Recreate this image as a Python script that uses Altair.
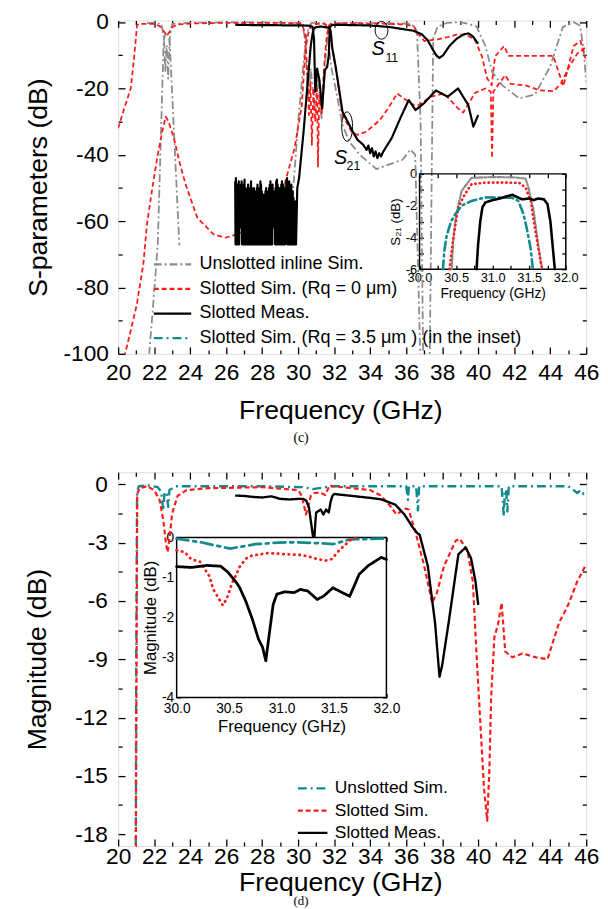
import altair as alt
import numpy as np
import pandas as pd

FONT = "Liberation Sans"
GRAY, RED, BLACK, TEAL = "#8c8c8c", "#ff1a1a", "#000000", "#12898a"

# plot sizes (px) and inset boxes (x0, x1, y_top, y_bottom) relative to plot area
W1, H1 = 476, 339
W2, H2 = 476, 380
TI = (306.5, 455.2, 156, 253)
BI = (59.5, 272.8, 66.3, 229)

# ------------------------------------------------------------------ (c) data
S_UNS = "Unslotted inline Sim."
S_SL0 = "Slotted Sim. (Rq = 0 μm)"
S_MEAS = "Slotted Meas."
S_SL35 = "Slotted Sim. (Rq = 3.5 μm ) (in the inset)"

gray_s11_f = [21.6, 22.0, 22.4, 22.55, 22.62, 22.7, 22.78, 22.86, 23.0, 24, 26, 28, 30.2, 30.35, 30.55,
              30.7, 30.9, 31.1, 31.3, 31.5, 31.65, 31.8, 33, 35, 36.3, 36.6, 36.8, 36.95]
gray_s11_db = [-0.3, -0.2, -0.5, -5, -15, -7, -17, -5, -0.5, -0.2, -0.1, -0.1, -0.3, -4, -22,
               -14, -25, -17, -29, -12, -3, -0.4, -0.2, -0.3, -0.5, -3, -30, -105]
gray_s21a_f = [21.65, 21.95, 22.2, 22.53, 22.65, 22.75, 22.86, 23.4]
gray_s21a_db = [-105, -85, -67, -5.4, -3, -4, -5.4, -67.3]
gray_s21b_f = [29.6, 29.8, 30.0, 30.25, 30.45, 30.6, 30.75, 31.0, 31.3, 31.5, 31.6, 31.68, 31.85, 32.08,
               32.46, 32.84, 33.4, 34.35, 35.1, 35.8, 36.24, 36.5, 36.8, 37.3, 37.5, 37.75, 38.3, 38.95,
               39.45, 39.9, 40.4, 40.77, 41.33, 42.28, 43.15, 44.0, 44.7, 45.3, 45.65, 45.85, 46.0]
gray_s21b_db = [-58, -45, -30, -15, -4.5, -1.2, -0.25, -0.2, -0.22, -0.4, -2.5, -6, -14, -20,
                -31, -36, -39.9, -44.3, -42.8, -41.5, -38.4, -40, -105, -105, -5, -1.3, -0.2, 0,
                -0.5, -1.3, -7.2, -15, -19, -23, -21.8, -13.4, -1.5, 0, -1, -8, -18]

red_s11_f = [20.0, 20.4, 20.7, 20.9, 21.05, 21.15, 22.0, 22.3, 22.5, 22.7, 22.85, 23.0, 23.3, 24.2, 26,
             28, 30.1, 30.25, 30.4, 30.5, 30.6, 30.68, 30.76, 30.85, 30.95, 31.05, 31.1, 31.17, 31.3,
             31.42, 31.55, 31.7, 31.9, 33, 35, 36.0, 36.43, 36.7, 37.0, 37.4, 37.75, 38.3, 38.8, 39.26,
             39.8, 40.2, 40.5, 40.75, 40.9, 40.96, 41.43, 41.7, 44.17, 44.73, 45.3, 45.68, 45.96]
red_s11_db = [-32, -25, -20, -10, -1, -0.5, -0.5, -1.2, -2.5, -4, -3, -1.5, -0.7, -0.4, -0.2,
              -0.2, -0.3, -1, -4, -15, -28, -18, -37, -20, -30, -20, -43.5, -22, -28,
              -15, -6, -1, -0.4, -0.4, -0.5, -0.7, -1.3, -3.7, -5.7, -5.4, -5.2, -4.5, -3.8, -3.7,
              -5.2, -10.2, -17, -19, -12, -10.2, -7.2, -10.2, -10.2, -19.3, -7.2, -5.7, -11]
red_s21_f = [20.34, 20.7, 21.04, 21.4, 21.6, 21.9, 22.2, 22.45, 22.64, 22.8, 23.1, 23.4, 23.75, 24.4,
             25.3, 25.95, 26.6, 27.5, 28.5, 29.0, 29.44, 29.8, 30.2, 30.38, 30.5, 30.6, 30.7, 30.8,
             31.0, 31.4, 31.55, 31.65, 31.75, 31.9, 32.2, 32.46, 33.0, 33.3, 33.8, 34.54, 35.0, 35.5,
             35.86, 36.43, 36.7, 37.37, 38.1, 38.88, 39.16, 39.83, 40.4, 40.7, 40.77, 40.84, 41.15,
             41.5, 41.8, 42.66, 43.4, 44.2, 44.6, 45.0, 45.5, 46.0]
red_s21_db = [-101, -93, -85, -73, -61, -50, -40, -33, -28.5, -30, -35, -42, -49, -59,
              -64, -65, -64, -62, -58, -54, -45, -38, -25, -10, -5, -2.5, -1.2, -0.6,
              -0.5, -0.5, -0.8, -2, -4, -8, -18, -28, -33.3, -34, -33, -29.5, -26, -21.5,
              -23, -25, -25, -22.5, -21.5, -26, -27.3, -21.3, -20, -21, -41, -21, -18.6,
              -16, -18.6, -19.1, -20.6, -20.8, -18.5, -14, -9.5, -7.5]

black_s11_f = [26.5, 27.5, 28.5, 29.5, 30.3, 30.6, 30.8, 30.88, 30.95, 31.05, 31.18, 31.33, 31.48,
               31.61, 31.7, 31.76, 31.9, 33.97, 35.1, 36.4, 36.85, 37.2, 37.5, 37.7, 37.85, 38.05,
               38.4, 38.8, 39.2, 39.45, 39.7, 40.0]
black_s11_db = [-0.8, -0.9, -0.9, -1.0, -1.0, -1.1, -1.5, -5, -21, -14, -17.5, -26, -14.5,
                -13.5, -10, -1.5, -0.8, -1.0, -1.5, -2.6, -3.6, -5.5, -8.5, -10.2, -10.8, -10,
                -7.2, -5, -3.7, -3.4, -4.3, -6.5]
# measured S21 below the passband: noisy band (upper peaks, floor -67 dB)
noise_hi = [-48, -47, -50, -49, -51, -48, -50, -52, -49, -48, -50, -51, -49, -47.5, -50, -52, -51,
            -50, -49, -51, -53, -50, -48, -50, -52, -51, -50, -53, -54, -51, -50, -49, -51, -52,
            -50, -48, -49, -51, -53, -52, -55, -53, -51, -50, -52, -54, -51, -50, -49, -48, -50,
            -51, -49, -52, -53, -51, -50, -48, -47.5, -49, -51, -50, -52, -51, -49, -48, -50, -49,
            -51, -53, -50, -48, -47, -49, -50, -48, -51, -50, -49, -52, -51, -53, -56, -58, -54]
noise_floor = -67
noise_gaps = {6: -61, 7: -60, 8: -62, 52: -62, 53: -60, 54: -61, 70: -61, 71: -62}
black_s21_f = [29.95, 30.05, 30.3, 30.5, 30.7, 30.8, 30.87, 30.95, 31.25, 31.5, 31.7, 31.8, 31.9, 32.1,
               32.46, 33.03, 33.3, 33.6, 33.8, 33.9, 34.0, 34.1, 34.2, 34.3, 34.4, 34.5, 34.6, 34.73,
               35.2, 35.67, 36.14, 36.52, 37.0, 37.65, 38.3, 38.88, 39.45, 39.73, 40.0]
black_s21_db = [-50, -47, -33, -20, -7, -3.5, -2, -1.6, -1.3, -1.55, -1.6, -2.5, -8, -14,
                -27, -33, -35.5, -36.9, -38.5, -37.2, -39.5, -38, -40.5, -39, -41, -39.5, -40.5, -39,
                -34.9, -29, -23.5, -26.5, -24.4, -20.6, -22.5, -20, -25, -31.5, -28]

# inset (c): S21 passband detail
ci_gray_f = [30.44, 30.46, 30.5, 30.575, 30.71, 31.0, 31.3, 31.45, 31.49, 31.56, 31.61, 31.66, 31.68]
ci_gray_db = [-6, -4.2, -2.6, -1.07, -0.25, -0.2, -0.22, -0.3, -0.86, -2.3, -4, -5.6, -6]
ci_red_f = [30.41, 30.44, 30.48, 30.53, 30.62, 30.71, 30.9, 31.2, 31.36, 31.45, 31.52, 31.56, 31.61, 31.66, 31.68]
ci_red_db = [-6, -4.8, -3.5, -2.1, -1.28, -0.66, -0.55, -0.55, -0.56, -0.86, -1.7, -2.9, -4.3, -5.6, -6]
ci_black_f = [30.78, 30.8, 30.83, 30.86, 30.9, 31.0, 31.1, 31.2, 31.27, 31.33, 31.4, 31.5, 31.56,
              31.62, 31.7, 31.75, 31.79, 31.82, 31.85]
ci_black_db = [-6, -4.5, -3, -2.1, -1.8, -1.65, -1.55, -1.4, -1.32, -1.45, -1.6, -1.55, -1.65,
               -1.55, -1.6, -1.9, -3, -4.5, -6]
ci_teal_f = [30.32, 30.34, 30.37, 30.43, 30.48, 30.575, 30.71, 30.9, 31.26, 31.35, 31.42, 31.47, 31.52, 31.55]
ci_teal_db = [-6, -4.8, -3.9, -3.0, -2.6, -2.0, -1.7, -1.48, -1.5, -1.7, -2.5, -3.5, -4.7, -6]

# annotations (c)
ann_s_f, ann_s_db, ann_s_sub = [34.44, 32.35], [-8.25, -41.0], ["11", "21"]
ann_sub_f, ann_sub_db = [35.2, 33.07], [-10.8, -43.4]
ell_f, ell_db = [34.63, 32.72], [-2.46, -31.5]

# ------------------------------------------------------------------ (d) data
D_UNS, D_SL, D_MEAS = "Unslotted Sim.", "Slotted Sim.", "Slotted Meas."
teal_d_f = [20.98, 21.0, 21.05, 21.15, 21.6, 22.2, 22.4, 22.5, 22.58, 22.7, 22.78, 22.85, 23.2, 25, 28,
            30.3, 30.8, 31.5, 32, 34, 36.0, 36.1, 36.15, 36.55, 36.65, 36.72, 38, 40, 41.3, 41.42,
            41.48, 41.55, 41.62, 41.7, 43, 45.0, 45.3, 45.5, 45.7, 45.85, 46.0]
teal_d_db = [-19.5, -10, -0.4, -0.1, -0.05, -0.15, -0.4, -1.35, -0.4, -0.5, -1.16, -0.3, -0.1, -0.1, -0.1,
             -0.15, -0.25, -0.15, -0.1, -0.1, -0.1, -0.8, -0.1, -0.1, -1.35, -0.1, -0.1, -0.1, -0.1, -1.65,
             -0.3, -0.3, -1.4, -0.1, -0.1, -0.1, -0.3, -0.45, -0.3, -0.5, -0.35]
red_d_f = [20.98, 21.02, 21.06, 21.2, 21.6, 22.0, 22.3, 22.5, 22.65, 22.75, 22.85, 23.0, 23.3, 23.8, 25,
           28, 30.0, 30.2, 30.35, 30.43, 30.55, 30.7, 30.9, 31.2, 31.5, 31.75, 31.9, 33, 34.0, 34.6,
           35.15, 35.45, 35.7, 35.95, 36.13, 36.5, 37.0, 37.44, 37.7, 38.1, 38.75, 38.97, 39.4, 39.7,
           39.95, 40.15, 40.32, 40.5, 40.62, 40.72, 40.9, 41.1, 41.3, 41.5, 41.9, 42.45, 43.2, 43.85,
           44.12, 44.5, 45.0, 45.5, 46.0]
red_d_db = [-19.5, -10, -0.5, -0.2, -0.1, -0.3, -0.8, -1.8, -3.0, -3.5, -2.8, -1.5, -0.6, -0.3, -0.2,
            -0.15, -0.3, -0.6, -1.2, -1.55, -1.2, -0.6, -0.45, -0.42, -0.55, -0.05, -0.1, -0.2, -0.3, -0.58,
            -1.16, -1.55, -1.4, -1.25, -1.3, -2.4, -4.2, -6.1, -5.6, -4.2, -2.9, -2.8, -3.4, -5.0,
            -9.5, -12.8, -15.6, -17.3, -14.7, -10.9, -7.85, -7.2, -6.1, -8.6, -8.9, -8.7, -8.9, -9.0,
            -8.2, -7.1, -6.2, -5.0, -4.1]
black_d_f = [26.5, 27, 27.5, 28, 28.5, 29, 29.5, 30.0, 30.3, 30.45, 30.6, 30.75, 30.88, 30.95, 31.0, 31.25,
             31.4, 31.55, 31.7, 31.8, 31.9, 32.0, 33, 34, 34.6, 35.4, 35.9, 36.35, 36.6, 36.75, 37.2,
             37.6, 37.85, 38.0, 38.36, 38.9, 39.3, 39.6, 39.85, 40.0]
black_d_db = [-0.58, -0.6, -0.65, -0.68, -0.62, -0.75, -0.78, -0.75, -0.75, -0.85, -1.2, -2.2, -3.05, -2,
              -1.45, -1.3, -1.55, -1.3, -1.45, -0.9, -0.6, -0.5, -0.6, -0.7, -0.77, -1.05, -1.55, -2.2,
              -2.5, -2.6, -4.2, -7.1, -9.9, -9.3, -7.1, -3.6, -3.25, -3.8, -5.0, -6.2]

# inset (d)
di_teal_f = [30.0, 30.23, 30.51, 30.75, 30.97, 31.15, 31.4, 31.49, 31.65, 32.0]
di_teal_db = [-0.03, -0.12, -0.28, -0.17, -0.13, -0.12, -0.15, -0.17, -0.05, -0.03]
di_red_f = [30.0, 30.08, 30.14, 30.22, 30.31, 30.35, 30.4, 30.44, 30.48, 30.53, 30.57, 30.6, 30.66, 30.72,
            30.88, 31.03, 31.18, 31.25, 31.34, 31.42, 31.48, 31.54, 31.6, 31.66, 31.72]
di_red_db = [-0.32, -0.37, -0.55, -0.6, -0.96, -1.3, -1.52, -1.7, -1.52, -1.13, -0.92, -0.74, -0.53, -0.45,
             -0.39, -0.42, -0.44, -0.47, -0.54, -0.58, -0.54, -0.35, -0.2, -0.06, 0]
di_black_f = [30.0, 30.14, 30.29, 30.42, 30.49, 30.57, 30.6, 30.66, 30.72, 30.78, 30.82, 30.85, 30.86, 30.89,
              30.92, 30.955, 31.03, 31.12, 31.18, 31.25, 31.34, 31.4, 31.49, 31.58, 31.65, 31.7, 31.74,
              31.83, 31.95, 32.0]
di_black_db = [-0.73, -0.75, -0.7, -0.72, -0.87, -1.13, -1.25, -1.6, -2.03, -2.54, -2.75, -3.09, -2.88, -2.28,
               -1.68, -1.42, -1.36, -1.38, -1.3, -1.34, -1.55, -1.47, -1.26, -1.38, -1.47, -1.17, -0.92,
               -0.7, -0.5, -0.55]

# ------------------------------------------------------------------ helpers
def frame(segments, series):
    rows = []
    for s, (fs, ds) in enumerate(segments):
        for i, (f, d) in enumerate(zip(fs, ds)):
            rows.append({"f": f, "db": d, "series": series, "seg": s, "i": i})
    return pd.DataFrame(rows)


def sc(domain, rng=None):
    if rng is None:
        return alt.Scale(domain=domain, nice=False, zero=False)
    return alt.Scale(domain=domain, range=rng, nice=False, zero=False)


def ax_labels(orient, values, title, lfs, tfs, lpad, tpad, offset=0, expr="'' + datum.value", title_x=None):
    kw = dict(orient=orient, values=values, labelFont=FONT, labelFontSize=lfs, labelPadding=lpad,
              ticks=False, domain=False, grid=False, labelFlush=False, labelOverlap=False,
              labelExpr=expr, labelColor="black", offset=offset, title=title,
              titleFont=FONT, titleFontSize=tfs, titlePadding=tpad, titleFontWeight="normal",
              titleColor="black")
    if title_x is not None:
        kw["titleX"] = title_x
    return alt.Axis(**kw)


def ax_ticks(orient, values, offset, major, minor=None, test=None):
    size = {"condition": {"test": test, "value": major}, "value": minor} if test else major
    return alt.Axis(orient=orient, values=values, offset=offset, labels=False, title=None,
                    domain=False, grid=False, tickSize=size, tickWidth=1.3, tickColor="black")


def tick_layer(xs, ys, xv, yv, xo, xoff, yo, yoff, maj, mnr=None, xt=None, yt=None):
    d = pd.DataFrame({"hx": [xv[0]], "hy": [yv[0]]})
    return alt.Chart(d).mark_point(opacity=0).encode(
        x=alt.X("hx:Q", scale=xs, axis=ax_ticks(xo, xv, xoff, maj, mnr, xt)),
        y=alt.Y("hy:Q", scale=ys, axis=ax_ticks(yo, yv, yoff, maj, mnr, yt)),
    )


def inset_line(fs, ds, xs, ys, color, dash, width):
    d = pd.DataFrame({"f": fs, "db": ds, "i": range(len(fs))})
    return alt.Chart(d).mark_line(color=color, strokeDash=dash, strokeWidth=width, strokeCap="round").encode(
        x=alt.X("f:Q", scale=xs, axis=None), y=alt.Y("db:Q", scale=ys, axis=None), order="i:Q")


def inset_box(xs, ys, xd, yd, fill_white):
    d = pd.DataFrame({"a": [xd[0]], "b": [xd[1]], "c": [yd[0]], "e": [yd[1]]})
    mk = dict(stroke="black", strokeWidth=1.5)
    if fill_white:
        mk["fill"] = "white"
    else:
        mk["fillOpacity"] = 0
    return alt.Chart(d).mark_rect(**mk).encode(
        x=alt.X("a:Q", scale=xs, axis=None), x2="b:Q",
        y=alt.Y("c:Q", scale=ys, axis=None), y2="e:Q")


# ------------------------------------------------------------------ panel (c)
xm1, ym1 = sc([20, 46]), sc([-100, 0.5])
xi1, yi1 = sc([30, 32], [TI[0], TI[1]]), sc([-6, 0], [TI[3], TI[2]])

ser_top = [S_UNS, S_SL0, S_MEAS, S_SL35]
col_top = alt.Scale(domain=ser_top, range=[GRAY, RED, BLACK, TEAL])
dash_top = alt.Scale(domain=ser_top, range=[[8, 3, 2, 3], [5, 3], [1, 0], [9, 4, 2, 4]])
leg_top = alt.Legend(orient="none", legendX=34.8, legendY=238, title=None, labelFont=FONT,
                     labelFontSize=18.3, labelColor="black", symbolType="stroke", symbolSize=1444,
                     symbolStrokeWidth=2.3, clipHeight=20, rowPadding=5, labelOffset=7, padding=0,
                     labelLimit=600)

noise_db = []
for k, h in enumerate(noise_hi):
    noise_db += [h, noise_gaps.get(k, noise_floor)]
noise_f = list(np.linspace(26.5, 29.88, len(noise_db)))

top_series = [
    (S_UNS, [(gray_s11_f, gray_s11_db), (gray_s21a_f, gray_s21a_db), (gray_s21b_f, gray_s21b_db)], 1.8),
    (S_SL0, [(red_s11_f, red_s11_db), (red_s21_f, red_s21_db)], 1.8),
    (S_MEAS, [(black_s11_f, black_s11_db), (noise_f + black_s21_f, noise_db + black_s21_db)], 2.2),
]

top_layers = []
for n, (name, segs, w) in enumerate(top_series):
    xa = ax_labels("bottom", list(range(20, 47, 2)), "Frequency (GHz)", 23, 27, 8, 14, title_x=226) if n == 0 else None
    ya = ax_labels("left", list(range(0, -101, -20)), "S-parameters (dB)", 23, 27, 10, 11) if n == 0 else None
    top_layers.append(
        alt.Chart(frame(segs, name)).mark_line(clip=True, strokeWidth=w, strokeCap="butt", strokeJoin="round").encode(
            x=alt.X("f:Q", scale=xm1, axis=xa),
            y=alt.Y("db:Q", scale=ym1, axis=ya),
            color=alt.Color("series:N", scale=col_top, legend=leg_top),
            strokeDash=alt.StrokeDash("series:N", scale=dash_top, legend=leg_top),
            detail="seg:N",
            order="i:Q",
        )
    )

ann_s = pd.DataFrame({"f": ann_s_f, "db": ann_s_db, "t": ["S", "S"]})
ann_sub = pd.DataFrame({"f": ann_sub_f, "db": ann_sub_db, "t": ann_s_sub})
top_layers.append(alt.Chart(ann_s).mark_text(font=FONT, fontSize=20, fontStyle="italic", color="black").encode(
    x=alt.X("f:Q", scale=xm1, axis=None), y=alt.Y("db:Q", scale=ym1, axis=None), text="t:N"))
top_layers.append(alt.Chart(ann_sub).mark_text(font=FONT, fontSize=12.5, color="black").encode(
    x=alt.X("f:Q", scale=xm1, axis=None), y=alt.Y("db:Q", scale=ym1, axis=None), text="t:N"))
ell_shapes = ["M -0.72 0 A 0.72 1 0 1 0 0.72 0 A 0.72 1 0 1 0 -0.72 0",
              "M -0.37 0 A 0.37 1 0 1 0 0.37 0 A 0.37 1 0 1 0 -0.37 0"]
ell_sizes = [324, 900]
for k in range(2):
    d = pd.DataFrame({"f": [ell_f[k]], "db": [ell_db[k]]})
    top_layers.append(alt.Chart(d).mark_point(shape=ell_shapes[k], size=ell_sizes[k], filled=False,
                                              stroke="black", strokeWidth=1, opacity=1).encode(
        x=alt.X("f:Q", scale=xm1, axis=None), y=alt.Y("db:Q", scale=ym1, axis=None)))

# inset (c)
top_layers.append(inset_box(xi1, yi1, [30, 32], [-6, 0], False))
top_layers.append(inset_line(ci_gray_f, ci_gray_db, xi1, yi1, GRAY, [4, 2, 1.5, 2], 2.2))
top_layers.append(inset_line(ci_red_f, ci_red_db, xi1, yi1, RED, [0.5, 4], 2.6))
top_layers.append(inset_line(ci_teal_f, ci_teal_db, xi1, yi1, TEAL, [9, 4, 2, 4], 2.6))
top_layers.append(inset_line(ci_black_f, ci_black_db, xi1, yi1, BLACK, [1, 0], 2.6))
ins_lab1 = pd.DataFrame({"hx": [30.0], "hy": [-6.0]})
top_layers.append(alt.Chart(ins_lab1).mark_point(opacity=0).encode(
    x=alt.X("hx:Q", scale=xi1, axis=ax_labels("bottom", [30.0, 30.5, 31.0, 31.5, 32.0], "Frequency (GHz)",
                                              13, 14, 2, 3, offset=TI[3] - H1, expr="format(datum.value, '.1f')")),
    y=alt.Y("hy:Q", scale=yi1, axis=ax_labels("left", [0, -2, -4, -6], "S₂₁ (dB)", 13, 13.5, 3, 3, offset=-TI[0]))))
xv_i = [30 + 0.25 * k for k in range(9)]
yv_i1 = [0, -1, -2, -3, -4, -5, -6]
top_layers.append(tick_layer(xi1, yi1, xv_i, yv_i1, "top", -TI[3], "right", TI[0] - W1, 4))
top_layers.append(tick_layer(xi1, yi1, xv_i, yv_i1, "bottom", TI[2] - H1, "left", -TI[1], 4))

# main ticks (c)
xv_m = list(range(20, 47))
yv_m1 = list(range(0, -101, -10))
top_layers.append(tick_layer(xm1, ym1, xv_m, yv_m1, "top", -H1, "right", -W1, 7, 4,
                             "datum.value % 2 === 0", "datum.value % 20 === 0"))
top_layers.append(tick_layer(xm1, ym1, xv_m, yv_m1, "bottom", -H1, "left", -W1, 7, 4,
                             "datum.value % 2 === 0", "datum.value % 20 === 0"))

top = alt.layer(*top_layers).resolve_scale(x="independent", y="independent").properties(
    width=W1, height=H1,
    title=alt.TitleParams("(c)", orient="bottom", font="Liberation Serif", fontSize=14,
                          fontWeight="normal", offset=8, dx=-52, color="black"))

# ------------------------------------------------------------------ panel (d)
xm2, ym2 = sc([20, 46]), sc([-18.6, 0.62])
xi2, yi2 = sc([30, 32], [BI[0], BI[1]]), sc([-4, 0], [BI[3], BI[2]])

ser_bot = [D_UNS, D_SL, D_MEAS]
col_bot = alt.Scale(domain=ser_bot, range=[TEAL, RED, BLACK])
dash_bot = alt.Scale(domain=ser_bot, range=[[9, 4, 2, 4], [5, 3], [1, 0]])
leg_bot = alt.Legend(orient="none", legendX=181.3, legendY=312.4, title=None, labelFont=FONT,
                     labelFontSize=17.7, labelColor="black", symbolType="stroke", symbolSize=900,
                     symbolStrokeWidth=2.3, clipHeight=18, rowPadding=4.7, labelOffset=6, padding=0,
                     labelLimit=600)

bot_series = [
    (D_UNS, [(teal_d_f, teal_d_db)], 2.4),
    (D_SL, [(red_d_f, red_d_db)], 2.2),
    (D_MEAS, [(black_d_f, black_d_db)], 2.4),
]
bot_layers = []
for n, (name, segs, w) in enumerate(bot_series):
    xa = ax_labels("bottom", list(range(20, 47, 2)), "Frequency (GHz)", 23, 27, 0, 1, title_x=226) if n == 0 else None
    ya = ax_labels("left", [0, -3, -6, -9, -12, -15, -18], "Magnitude (dB)", 23, 27, 11, 24) if n == 0 else None
    bot_layers.append(
        alt.Chart(frame(segs, name)).mark_line(clip=True, strokeWidth=w, strokeCap="butt", strokeJoin="round").encode(
            x=alt.X("f:Q", scale=xm2, axis=xa),
            y=alt.Y("db:Q", scale=ym2, axis=ya),
            color=alt.Color("series:N", scale=col_bot, legend=leg_bot),
            strokeDash=alt.StrokeDash("series:N", scale=dash_bot, legend=leg_bot),
            detail="seg:N",
            order="i:Q",
        )
    )

bot_layers.append(inset_box(xi2, yi2, [30, 32], [-4, 0], True))
bot_layers.append(inset_line(di_teal_f, di_teal_db, xi2, yi2, TEAL, [12, 5, 3, 5], 2.8))
bot_layers.append(inset_line(di_red_f, di_red_db, xi2, yi2, RED, [0.5, 5], 2.8))
bot_layers.append(inset_line(di_black_f, di_black_db, xi2, yi2, BLACK, [1, 0], 2.8))
ins_lab2 = pd.DataFrame({"hx": [30.0], "hy": [-4.0]})
bot_layers.append(alt.Chart(ins_lab2).mark_point(opacity=0).encode(
    x=alt.X("hx:Q", scale=xi2, axis=ax_labels("bottom", [30.0, 30.5, 31.0, 31.5, 32.0], "Frequency (GHz)",
                                              14, 17, 4, 4, offset=BI[3] - H2, expr="format(datum.value, '.1f')")),
    y=alt.Y("hy:Q", scale=yi2, axis=ax_labels("left", [0, -1, -2, -3, -4], "Magnitude (dB)", 14, 17, 3, 2,
                                              offset=-BI[0]))))
yv_i2 = [-0.5 * k for k in range(9)]
bot_layers.append(tick_layer(xi2, yi2, xv_i, yv_i2, "top", -BI[3], "right", BI[0] - W2, 4))
bot_layers.append(tick_layer(xi2, yi2, xv_i, yv_i2, "bottom", BI[2] - H2, "left", -BI[1], 4))

yv_m2 = [-1.5 * k for k in range(13)]
bot_layers.append(tick_layer(xm2, ym2, xv_m, yv_m2, "top", -H2, "right", -W2, 7, 4,
                             "datum.value % 2 === 0", "datum.value % 3 === 0"))
bot_layers.append(tick_layer(xm2, ym2, xv_m, yv_m2, "bottom", -H2, "left", -W2, 7, 4,
                             "datum.value % 2 === 0", "datum.value % 3 === 0"))

bot = alt.layer(*bot_layers).resolve_scale(x="independent", y="independent").properties(
    width=W2, height=H2,
    title=alt.TitleParams("(d)", orient="bottom", font="Liberation Serif", fontSize=13,
                          fontWeight="normal", offset=0, dx=-52, color="black"))

chart = alt.vconcat(top, bot, spacing=24.4).resolve_scale(
    color="independent", strokeDash="independent"
).properties(
    padding={"left": 15, "top": -5, "right": 0, "bottom": 0}
).configure_view(stroke="black", strokeWidth=2).configure(font=FONT, background="white")

chart.save("out.html", embed_options={"renderer": "svg", "actions": False})
